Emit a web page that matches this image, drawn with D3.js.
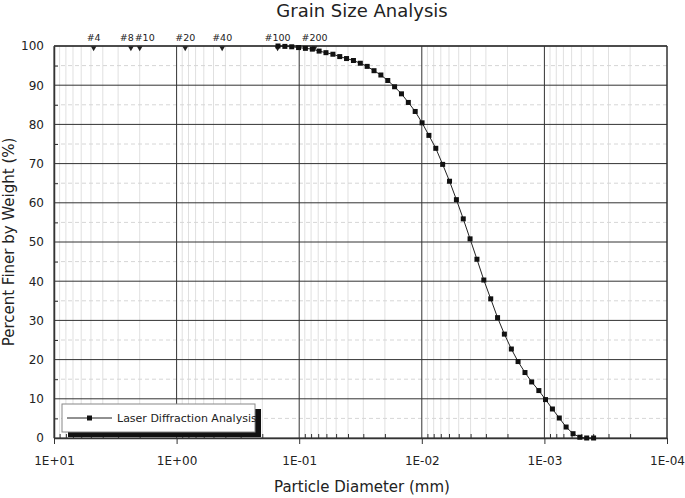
<!DOCTYPE html>
<html>
<head>
<meta charset="utf-8">
<title>Grain Size Analysis</title>
<script src="https://d3js.org/d3.v7.min.js"></script>
<style>
  body { margin: 0; background: #fff; }
  text { font-family: "DejaVu Sans", sans-serif; fill: #222; }
</style>
</head>
<body>
<script>
  // particle diameters (mm)
  var diameter = [0.1489, 0.1309, 0.1151, 0.1012, 0.0890, 0.0782, 0.0688, 0.0605, 0.0531, 0.0467,
                  0.0411, 0.0361, 0.03173, 0.02790, 0.02453, 0.02157, 0.01895, 0.01667, 0.01465, 0.01288,
                  0.01132, 0.00995, 0.00875, 0.00769, 0.00676, 0.00594, 0.00522, 0.00459, 0.00404, 0.00355,
                  0.00312, 0.00274, 0.00241, 0.00212, 0.00186, 0.00164, 0.00144, 0.00127, 0.00111, 0.000979,
                  0.000860, 0.000756, 0.000665, 0.000584, 0.000514, 0.000452, 0.000397];
  // percent finer by weight
  var finer = [100, 99.9, 99.8, 99.6, 99.4, 99.2, 98.7, 98.3, 97.9, 97.3,
               96.8, 96.3, 95.6, 94.8, 93.7, 92.6, 91.2, 89.6, 87.8, 85.6,
               83.3, 80.4, 77.2, 73.9, 69.8, 65.5, 60.8, 55.9, 50.8, 45.6,
               40.3, 35.5, 30.7, 26.5, 22.7, 19.5, 16.7, 14.3, 12.1, 9.8,
               7.4, 5.1, 2.8, 1.1, 0.2, 0.0, 0.0];

  var sieveNames = ["#4", "#8", "#10", "#20", "#40", "#100", "#200"];
  var sieveSizes = [4.75, 2.36, 2.0, 0.85, 0.425, 0.15, 0.075];

  var xTicks = [10, 1, 0.1, 0.01, 0.001, 0.0001];
  var xTickLabels = ["1E+01", "1E+00", "1E-01", "1E-02", "1E-03", "1E-04"];
  var yTicks = [0, 10, 20, 30, 40, 50, 60, 70, 80, 90, 100];

  var width = 685, height = 498;
  var margin = {top: 46, right: 18, bottom: 60, left: 54};
  var tickFont = "DejaVu Sans Condensed, DejaVu Sans, sans-serif";

  var x = d3.scaleLog().domain([10, 0.0001]).range([margin.left, width - margin.right]);
  var y = d3.scaleLinear().domain([0, 100]).range([height - margin.bottom, margin.top]);

  var svg = d3.select("body").append("svg")
              .attr("width", width)
              .attr("height", height);

  // minor vertical grid (2..9 in each decade)
  var minorX = [];
  for (var e = -4; e < 1; e++) {
    for (var m = 2; m <= 9; m++) minorX.push(m * Math.pow(10, e));
  }
  svg.append("g").selectAll("line")
     .data(minorX).enter().append("line")
     .attr("x1", function(d){return x(d);}).attr("x2", function(d){return x(d);})
     .attr("y1", y(0)).attr("y2", y(100))
     .attr("stroke", "#e0e0e0").attr("stroke-width", 1);

  // minor horizontal grid at 5s, dashed
  svg.append("g").selectAll("line")
     .data([5, 15, 25, 35, 45, 55, 65, 75, 85, 95]).enter().append("line")
     .attr("x1", x(10)).attr("x2", x(0.0001))
     .attr("y1", function(d){return y(d);}).attr("y2", function(d){return y(d);})
     .attr("stroke", "#d6d6d6").attr("stroke-dasharray", "4,3");

  // major grid
  svg.append("g").selectAll("line")
     .data(xTicks).enter().append("line")
     .attr("x1", function(d){return x(d);}).attr("x2", function(d){return x(d);})
     .attr("y1", y(0)).attr("y2", y(100))
     .attr("stroke", "#333").attr("stroke-width", 1);
  svg.append("g").selectAll("line")
     .data(yTicks).enter().append("line")
     .attr("x1", x(10)).attr("x2", x(0.0001))
     .attr("y1", function(d){return y(d);}).attr("y2", function(d){return y(d);})
     .attr("stroke", "#333").attr("stroke-width", 1);

  // bottom axis: minor ticks inward, decade ticks through the axis
  var xMinor = d3.axisBottom(x).tickValues(minorX).tickSize(-4).tickFormat("");
  svg.append("g").attr("transform", "translate(0," + y(0) + ")").call(xMinor)
     .call(function(g){ g.select(".domain").remove(); g.selectAll("line").attr("stroke", "#333"); });
  var xAxis = d3.axisBottom(x).tickValues(xTicks).tickSizeInner(6).tickSizeOuter(0)
                .tickPadding(12)
                .tickFormat(function(d, i){return xTickLabels[i];});
  svg.append("g").attr("transform", "translate(0," + y(0) + ")").call(xAxis)
     .call(function(g){
       g.select(".domain").attr("stroke", "#333").attr("stroke-width", 1.5);
       g.selectAll("line").attr("stroke", "#333");
       g.selectAll("text").attr("font-size", 12).attr("font-family", tickFont).attr("fill", "#222");
     });

  // left axis
  var yMinor = d3.axisLeft(y).tickValues([5, 15, 25, 35, 45, 55, 65, 75, 85, 95]).tickSize(-4).tickFormat("");
  svg.append("g").attr("transform", "translate(" + x(10) + ",0)").call(yMinor)
     .call(function(g){ g.select(".domain").remove(); g.selectAll("line").attr("stroke", "#333"); });
  var yAxis = d3.axisLeft(y).tickValues(yTicks).tickSizeInner(0).tickSizeOuter(0).tickPadding(10);
  svg.append("g").attr("transform", "translate(" + x(10) + ",0)").call(yAxis)
     .call(function(g){
       g.select(".domain").attr("stroke", "#333").attr("stroke-width", 1.5);
       g.selectAll("text").attr("font-size", 12).attr("font-family", tickFont).attr("fill", "#222");
     });

  // frame top and right
  svg.append("line").attr("x1", x(10)).attr("x2", x(0.0001)).attr("y1", y(100)).attr("y2", y(100))
     .attr("stroke", "#333").attr("stroke-width", 1.5);
  svg.append("line").attr("x1", x(0.0001)).attr("x2", x(0.0001)).attr("y1", y(100)).attr("y2", y(0))
     .attr("stroke", "#333").attr("stroke-width", 1);

  // sieve markers
  var sieves = sieveNames.map(function(n, i){ return {name: n, size: sieveSizes[i]}; });
  var labelShift = {"#8": -4, "#10": 5};
  var tri = d3.symbol().type(d3.symbolTriangle).size(14);
  svg.append("g").selectAll("path")
     .data(sieves).enter().append("path")
     .attr("d", tri)
     .attr("transform", function(d){ return "translate(" + x(d.size) + "," + (y(100) + 2) + ") rotate(180)"; })
     .attr("fill", "#222");
  svg.append("g").selectAll("text")
     .data(sieves).enter().append("text")
     .attr("x", function(d){return x(d.size) + (labelShift[d.name] || 0);})
     .attr("y", y(100) - 5)
     .attr("text-anchor", "middle")
     .attr("font-size", 9.5)
     .attr("font-family", tickFont)
     .text(function(d){return d.name;});

  // data line and squares
  var pts = diameter.map(function(d, i){ return [d, finer[i]]; });
  var line = d3.line().x(function(d){return x(d[0]);}).y(function(d){return y(d[1]);});
  svg.append("path").datum(pts)
     .attr("d", line).attr("fill", "none").attr("stroke", "#222").attr("stroke-width", 1);
  svg.append("g").selectAll("rect")
     .data(pts).enter().append("rect")
     .attr("x", function(d){return x(d[0]) - 2.5;})
     .attr("y", function(d){return y(d[1]) - 2.5;})
     .attr("width", 5).attr("height", 5)
     .attr("fill", "#111");

  // legend with drop shadow
  var lg = svg.append("g").attr("transform", "translate(62,404)");
  lg.append("rect").attr("x", 6).attr("y", 5).attr("width", 193).attr("height", 28).attr("fill", "#111");
  lg.append("rect").attr("x", 0).attr("y", 0).attr("width", 193).attr("height", 28)
    .attr("fill", "#fff").attr("stroke", "#888").attr("stroke-width", 1);
  lg.append("line").attr("x1", 5).attr("x2", 50).attr("y1", 14).attr("y2", 14).attr("stroke", "#222");
  lg.append("rect").attr("x", 25).attr("y", 11.5).attr("width", 5).attr("height", 5).attr("fill", "#111");
  lg.append("text").attr("x", 55).attr("y", 18)
    .attr("font-size", 11).attr("font-family", "Liberation Sans, Arial, sans-serif")
    .text("Laser Diffraction Analysis");

  // titles
  svg.append("text").attr("x", 362).attr("y", 17).attr("text-anchor", "middle")
     .attr("font-size", 18).text("Grain Size Analysis");
  svg.append("text").attr("x", 362).attr("y", 492).attr("text-anchor", "middle")
     .attr("font-size", 15).text("Particle Diameter (mm)");
  svg.append("text").attr("transform", "translate(14," + y(50) + ") rotate(-90)")
     .attr("text-anchor", "middle").attr("font-size", 15).text("Percent Finer by Weight (%)");
</script>
</body>
</html>
